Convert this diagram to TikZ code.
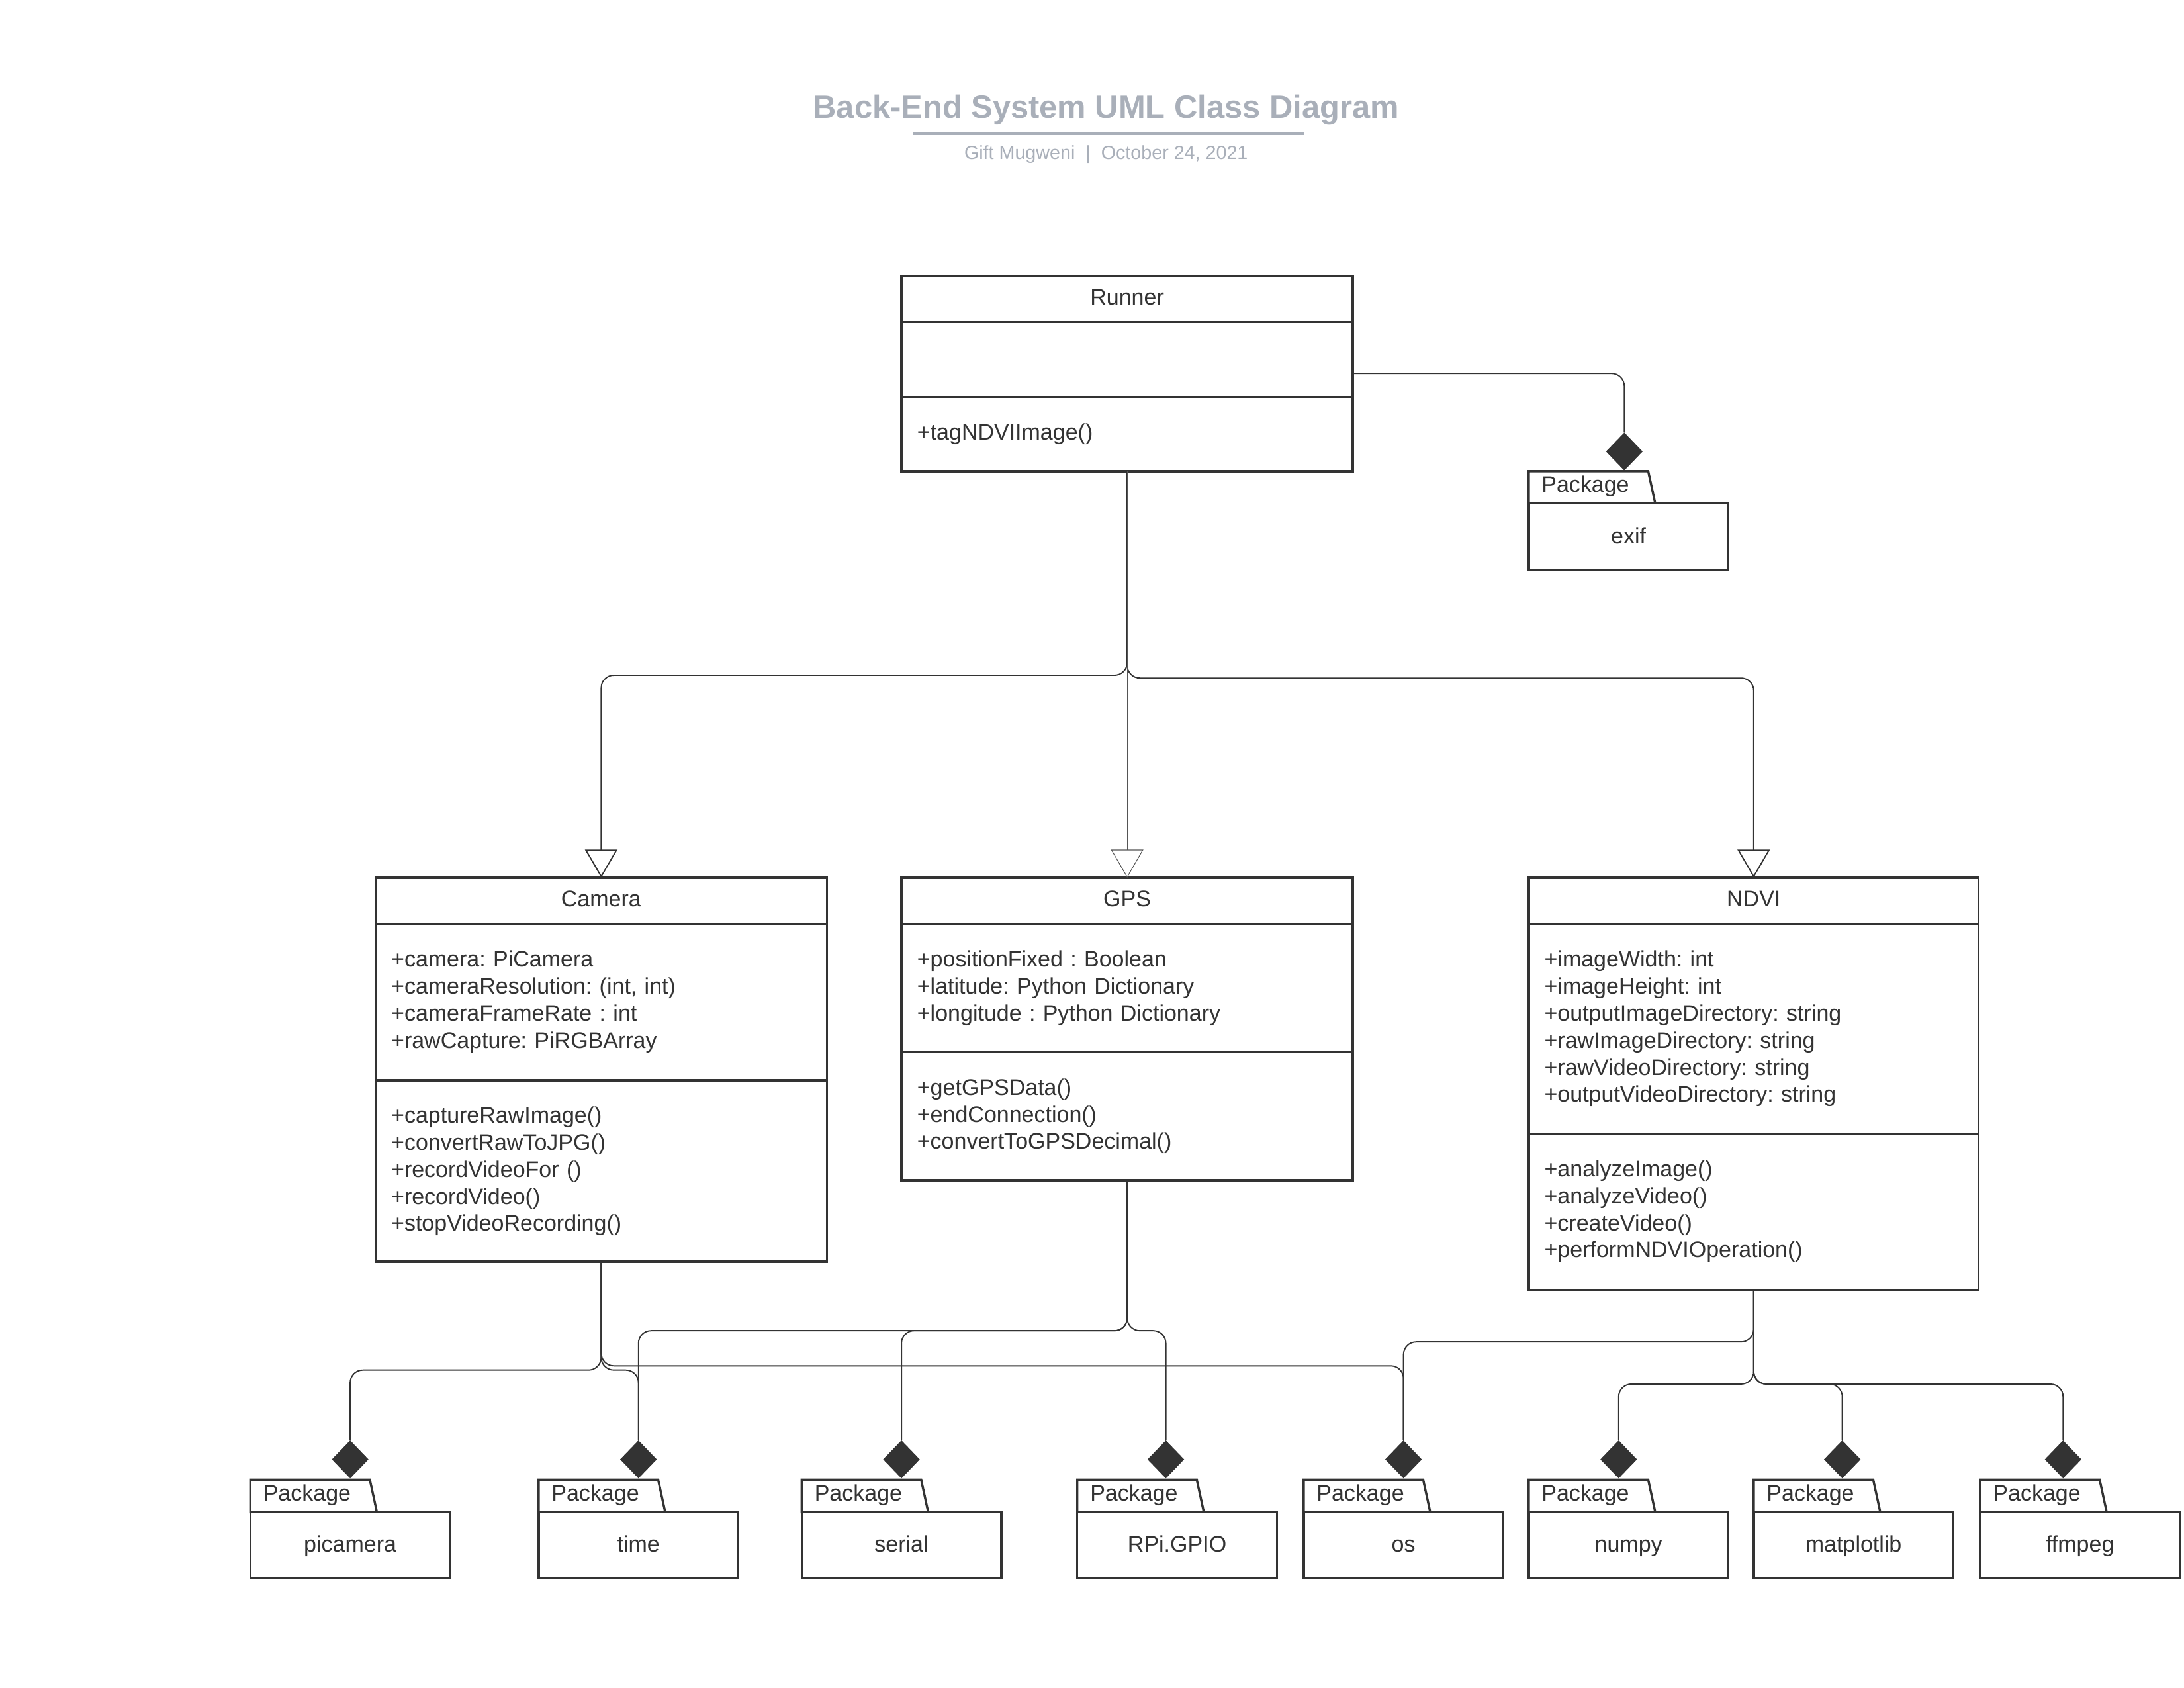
\documentclass[tikz,border=0pt]{standalone}
\usepackage{fontspec}
\setmainfont{Liberation Sans}
\usetikzlibrary{shapes.geometric,arrows.meta}
\definecolor{ink}{HTML}{333333}
\definecolor{ttl}{HTML}{A9AFB9}
\definecolor{thinline}{HTML}{555555}
\frenchspacing
\tikzset{
  boxline/.style={draw=ink, line width=1.6pt},
  cbox/.style={boxline, fill=white, rectangle, inner sep=0pt, outer sep=0pt, anchor=north west},
  ctitle/.style={anchor=base, inner sep=0pt, text=ink, font=\fontsize{16}{19.2}\selectfont},
  ctext/.style={anchor=base west, inner sep=0pt, text=ink, text width=300pt, align=left, font=\fontsize{16}{19.2}\selectfont},
  conn/.style={draw=ink, line width=0.9pt, rounded corners=9pt},
  inh/.style={conn, -{Triangle[open, length=20pt, width=23pt]}},
  inhthin/.style={draw=thinline, line width=0.5pt, -{Triangle[open, length=20pt, width=23pt]}},
  dmd/.style={diamond, fill=ink, draw=none, minimum width=26pt, minimum height=27pt, inner sep=0pt, outer sep=0pt},
  pbox/.style={boxline, fill=white, rectangle, inner sep=0pt, outer sep=0pt, anchor=north west, minimum width=142pt, minimum height=47pt},
  ptxt/.style={inner sep=0pt, text=ink, font=\fontsize{16}{19.2}\selectfont},
}
\newcommand{\pkgbox}[4]{%
  \draw[boxline, fill=white] (#2,#3) -- (#2+85,#3) -- (#2+90,#3+23) -- (#2,#3+23) -- cycle;
  \node[pbox] (#1) at (#2,#3+23) {};
  \node[ptxt, anchor=base west] (#1tab) at (#2+9,#3+15) {Package};
  \node[ptxt, anchor=base] (#1lbl) at (#2+71,#3+51.5) {#4};
}
\begin{document}
\begin{tikzpicture}[x=1pt,y=-1pt]
\useasboundingbox (0,0) rectangle (1553,1200);

% title
\node[anchor=base, inner sep=0pt, text=ttl, font=\bfseries\fontsize{23}{27}\selectfont] (title) at (786.5,84) {Back-End System UML Class Diagram};
\draw[ttl, line width=2.2pt] (649,95) -- (927,95);
\node[anchor=base, inner sep=0pt, text=ttl, font=\fontsize{13.5}{16}\selectfont] (subtitle) at (786.5,113) {Gift Mugweni\ \ |\ \ October 24, 2021};

% Runner
\node[cbox, minimum width=321pt, minimum height=139pt] (runner) at (641,196) {};
\draw[boxline] (641,229) -- (962,229);
\draw[boxline] (641,282) -- (962,282);
\node[ctitle] (runnerT) at (801.5,216.5) {Runner};
\node[ctext] (runnerM) at (652,312.5) {+tagNDVIImage()};

% Camera
\node[cbox, minimum width=321pt, minimum height=273pt] (camera) at (267,624) {};
\draw[boxline] (267,657) -- (588,657);
\draw[boxline] (267,768) -- (588,768);
\node[ctitle] (cameraT) at (427.5,644.5) {Camera};
\node[ctext] (cameraA) at (278,687.5) {+camera: PiCamera\\+cameraResolution: (int, int)\\+cameraFrameRate : int\\+rawCapture: PiRGBArray};
\node[ctext] (cameraM) at (278,798.5) {+captureRawImage()\\+convertRawToJPG()\\+recordVideoFor ()\\+recordVideo()\\+stopVideoRecording()};

% GPS
\node[cbox, minimum width=321pt, minimum height=215pt] (gps) at (641,624) {};
\draw[boxline] (641,657) -- (962,657);
\draw[boxline] (641,748) -- (962,748);
\node[ctitle] (gpsT) at (801.5,644.5) {GPS};
\node[ctext] (gpsA) at (652,687.5) {+positionFixed : Boolean\\+latitude: Python Dictionary\\+longitude : Python Dictionary};
\node[ctext] (gpsM) at (652,778.5) {+getGPSData()\\+endConnection()\\+convertToGPSDecimal()};

% NDVI
\node[cbox, minimum width=320pt, minimum height=293pt] (ndvi) at (1087,624) {};
\draw[boxline] (1087,657) -- (1407,657);
\draw[boxline] (1087,806) -- (1407,806);
\node[ctitle] (ndviT) at (1247,644.5) {NDVI};
\node[ctext] (ndviA) at (1098,687.5) {+imageWidth: int\\+imageHeight: int\\+outputImageDirectory: string\\+rawImageDirectory: string\\+rawVideoDirectory: string\\+outputVideoDirectory: string};
\node[ctext] (ndviM) at (1098,836.5) {+analyzeImage()\\+analyzeVideo()\\+createVideo()\\+performNDVIOperation()};

% packages
\pkgbox{exif}{1087}{335}{exif}
\pkgbox{picamera}{178}{1052}{picamera}
\pkgbox{time}{383}{1052}{time}
\pkgbox{serial}{570}{1052}{serial}
\pkgbox{rpi}{766}{1052}{RPi.GPIO}
\pkgbox{os}{927}{1052}{os}
\pkgbox{numpy}{1087}{1052}{numpy}
\pkgbox{matplotlib}{1247}{1052}{matplotlib}
\pkgbox{ffmpeg}{1408}{1052}{ffmpeg}

% diamonds
\node[dmd] (exifd) at (1155,321) {};
\node[dmd] (picamerad) at (249,1037.5) {};
\node[dmd] (timed) at (454,1037.5) {};
\node[dmd] (seriald) at (641,1037.5) {};
\node[dmd] (rpid) at (829,1037.5) {};
\node[dmd] (osd) at (998,1037.5) {};
\node[dmd] (numpyd) at (1151,1037.5) {};
\node[dmd] (matplotlibd) at (1310,1037.5) {};
\node[dmd] (ffmpegd) at (1467,1037.5) {};

% Runner -> exif
\draw[conn] (runner.east) -| (exifd.north);

% inheritance
\draw[inh] (runner.south) -- (runner.south |- 0,480) -| (camera.north);
\draw[inh] (runner.south) -- (runner.south |- 0,482) -| (ndvi.north);
\draw[inhthin] (runner.south) -- (gps.north);

% Camera compositions
\draw[conn] (camera.south) -- (camera.south |- 0,974) -| (picamerad.north);
\draw[conn] (camera.south) -- (camera.south |- 0,974) -| (timed.north);
\draw[conn] (camera.south) -- (camera.south |- 0,971) -| (osd.north);

% GPS compositions
\draw[conn] (gps.south) -- (gps.south |- 0,946) -| (timed.north);
\draw[conn] (gps.south) -- (gps.south |- 0,946) -| (seriald.north);
\draw[conn] (gps.south) -- (gps.south |- 0,946) -| (rpid.north);

% NDVI compositions
\draw[conn] (ndvi.south) -- (ndvi.south |- 0,954) -| (osd.north);
\draw[conn] (ndvi.south) -- (ndvi.south |- 0,984) -| (numpyd.north);
\draw[conn] (ndvi.south) -- (ndvi.south |- 0,984) -| (matplotlibd.north);
\draw[conn] (ndvi.south) -- (ndvi.south |- 0,984) -| (ffmpegd.north);
\end{tikzpicture}
\end{document}
